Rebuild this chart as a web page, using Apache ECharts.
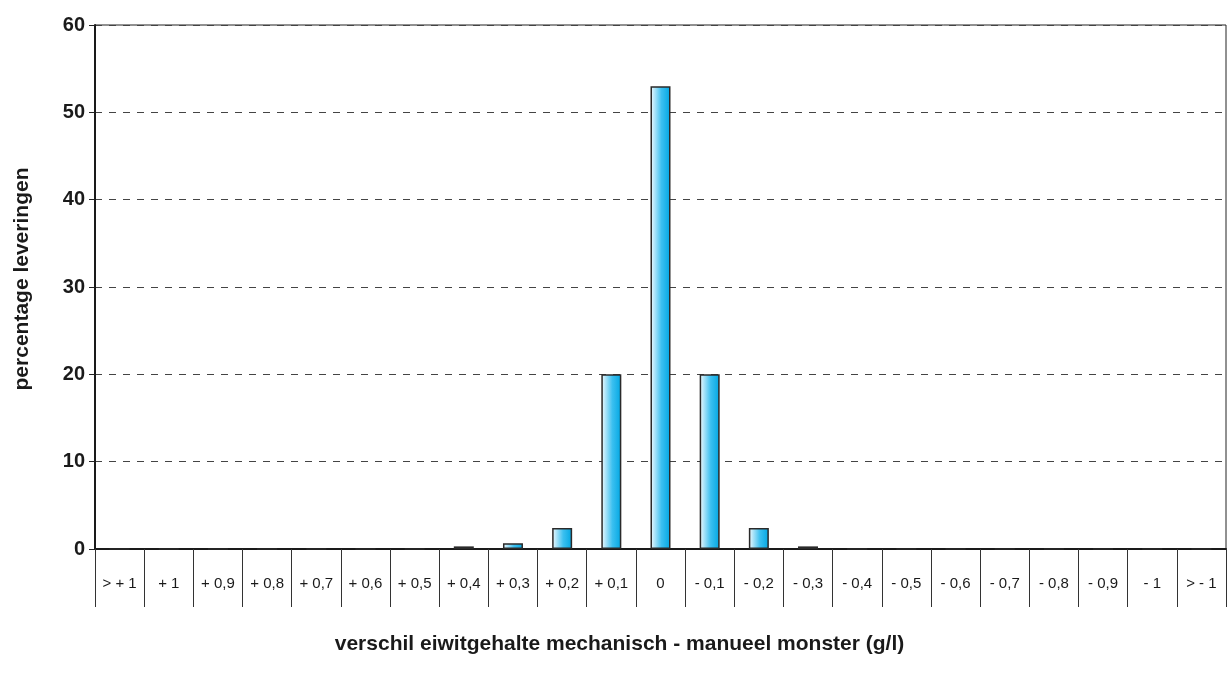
<!DOCTYPE html>
<html>
<head>
<meta charset="utf-8">
<script src="https://cdn.jsdelivr.net/npm/echarts@6/dist/echarts.min.js"></script>
<style>
html,body{margin:0;padding:0;background:#fff;}
#chart{width:1231px;height:674px;}
</style>
</head>
<body>
<div id="chart"></div>
<script>
var categories = ['> + 1', '+ 1', '+ 0,9', '+ 0,8', '+ 0,7', '+ 0,6', '+ 0,5', '+ 0,4', '+ 0,3', '+ 0,2', '+ 0,1', '0',
  '- 0,1', '- 0,2', '- 0,3', '- 0,4', '- 0,5', '- 0,6', '- 0,7', '- 0,8', '- 0,9', '- 1', '> - 1'];
var percentages = [0, 0, 0, 0, 0, 0, 0, 0.3, 0.65, 2.4, 20, 53, 20, 2.4, 0.3, 0, 0, 0, 0, 0, 0, 0, 0];
var yTicks = [0, 10, 20, 30, 40, 50, 60];
var xTitle = 'verschil eiwitgehalte mechanisch - manueel monster (g/l)';
var yTitle = 'percentage leveringen';

var chart = echarts.init(document.getElementById('chart'), null, {renderer: 'canvas'});
var font = 'Liberation Sans, Arial, Helvetica, sans-serif';
chart.setOption({
  animation: false,
  backgroundColor: '#ffffff',
  grid: {
    left: 95, right: 5, top: 25, bottom: 125,
    show: true, borderColor: '#222', borderWidth: 1
  },
  xAxis: {
    type: 'category',
    data: categories,
    boundaryGap: true,
    axisLine: {lineStyle: {color: '#1a1a1a', width: 2}},
    axisTick: {show: true, interval: 0, length: 58, lineStyle: {color: '#333', width: 1}},
    axisLabel: {interval: 0, margin: 27, fontFamily: font, fontSize: 15, color: '#1a1a1a'},
    name: xTitle,
    nameLocation: 'middle',
    nameGap: 85,
    nameTextStyle: {fontFamily: font, fontSize: 21, fontWeight: 'bold', color: '#1a1a1a', padding: [0, 82, 0, 0]}
  },
  yAxis: {
    type: 'value',
    min: yTicks[0],
    max: yTicks[yTicks.length - 1],
    interval: 10,
    axisLine: {show: true, lineStyle: {color: '#1a1a1a', width: 2}},
    axisTick: {show: true, length: 6, lineStyle: {color: '#222'}},
    axisLabel: {margin: 10, fontFamily: font, fontSize: 20, fontWeight: 'bold', color: '#1a1a1a'},
    splitLine: {show: true, lineStyle: {color: '#444', type: [7, 7], width: 1}},
    name: yTitle,
    nameLocation: 'middle',
    nameGap: 62,
    nameTextStyle: {fontFamily: font, fontSize: 21, fontWeight: 'bold', color: '#1a1a1a', padding: [0, 0, 0, 16]}
  },
  series: [{
    type: 'bar',
    data: percentages,
    barWidth: 20,
    itemStyle: {
      color: new echarts.graphic.LinearGradient(0, 0, 1, 0, [
        {offset: 0, color: '#f4fbfe'},
        {offset: 0.55, color: '#3cc0f0'},
        {offset: 1, color: '#00a6e2'}
      ]),
      borderColor: '#2a2a2a',
      borderWidth: 1.5
    }
  }]
});
</script>
</body>
</html>
